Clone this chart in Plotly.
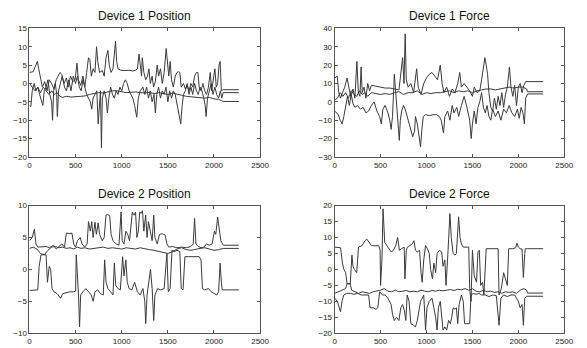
import plotly.graph_objects as go

# ---------------------------------------------------------------
# Recorded traces: (sample index, value) knots for each channel
# ---------------------------------------------------------------

# Device 1 position
d1_pos_a = [(0,3),(40,3.2),(70,5),(85,6),(100,4),(120,1),(140,-1),(165,0.5),(190,-2),(215,1),(240,0),(265,-1.5),
            (290,1),(310,2),(330,3),(350,2.5),(375,0),(400,1.5),(420,-1),(445,2),(470,0.5),(495,1),(515,5.5),(530,1),
            (555,-0.5),(580,2),(600,-1),(620,3),(640,7),(655,6.5),(670,2),(690,4),(710,3),(727,10),(740,6),(760,3),
            (790,3.5),(810,2),(830,7),(850,9),(865,5),(885,3),(905,4),(920,8),(933,11.5),(945,6),(960,4),(990,3.6),
            (1030,3.5),(1080,3.6),(1120,3.4),(1150,3.6),(1170,4),(1188,8),(1200,5),(1215,2),(1223,7),(1240,3),(1260,1),
            (1280,2),(1295,4),(1310,0),(1330,2),(1345,-1),(1365,0.5),(1385,5),(1400,2),(1420,4),(1440,0),(1460,3),
            (1482,9.5),(1495,5),(1510,2),(1525,6),(1540,1),(1560,-1),(1580,2),(1600,3),(1615,3.2),(1630,3),(1645,-1),
            (1670,0),(1690,-1.5),(1710,-0.5),(1730,-2),(1750,0),(1770,-1),(1790,2),(1810,3),(1826,3),(1840,-1),
            (1860,-2),(1880,0),(1900,-2),(1920,-3),(1940,-1),(1960,3),(1975,-2),(1990,1),(2010,4),(2025,-1),(2040,0),
            (2055,5),(2067,6),(2080,-2),(2100,-1.7),(2270,-1.7)]
d1_pos_b = [(0,0),(30,-1),(60,-2),(90,-1),(120,-2.5),(150,-1),(180,-2),(210,-3),(240,-2),(270,-3),(300,-2.5),
            (330,-3.5),(360,-3.8),(400,-3.5),(450,-3.7),(500,-3.6),(550,-3.5),(600,-3.4),(650,-3),(700,-2.8),
            (750,-2.5),(800,-2.6),(850,-2.3),(900,-2),(950,-2),(1000,-2.2),(1050,-2.5),(1100,-2.4),(1150,-2.3),
            (1200,-2.5),(1250,-2.6),(1300,-2.4),(1350,-2.8),(1400,-2.5),(1450,-2.8),(1500,-3),(1550,-2.6),(1600,-3),
            (1650,-3.2),(1700,-3.5),(1750,-3.6),(1800,-3.8),(1850,-3.7),(1900,-4),(1950,-3.8),(2000,-4.2),
            (2050,-4.3),(2100,-4.9),(2270,-4.9)]
d1_pos_c = [(0,-6),(15,-6.3),(30,-2),(50,0),(70,-2),(90,-1),(110,-3),(130,-5),(145,-6),(160,-2),(180,-1),(200,1),
            (220,-3),(240,-5),(250,-10),(262,-2),(280,0),(295,-3),(302,-9),(315,-2),(335,0),(355,2),(380,-1),(400,-2),
            (425,1),(450,-2),(475,2),(500,0),(520,2),(540,-1),(560,-2),(580,1),(600,-1),(620,-3),(640,-4),(660,-5),
            (675,-7),(690,-4),(710,-3),(730,-2),(745,-11),(760,-3),(770,-2),(780,-17.5),(790,-4),(810,-2),(830,-4),
            (845,-8),(860,-4),(880,-1),(900,-3),(920,-4),(940,-2),(960,-3),(980,-1),(1000,-2),(1020,0),(1040,1),
            (1060,0),(1080,-2),(1100,-3),(1120,-4),(1140,-6),(1163,-9.2),(1180,-4),(1200,-2),(1230,-1),(1250,-3),
            (1270,-1),(1290,-4),(1310,-2),(1330,-5),(1350,-3),(1365,-8),(1380,-3),(1400,-1),(1420,-4),(1440,-2),
            (1460,-3),(1480,-1),(1500,-5),(1520,-2),(1540,-4),(1560,-2),(1580,-3),(1600,-6),(1620,-8),(1640,-11),
            (1655,-6),(1670,-3),(1690,-2),(1710,0),(1730,-3),(1750,-1),(1770,-3),(1790,0),(1810,-2),(1830,-3),
            (1850,-1),(1870,-2),(1890,-4),(1905,-6),(1915,-9),(1930,-4),(1950,-2),(1970,0),(1990,-3),(2010,-1),
            (2030,-3),(2050,-4),(2070,-2),(2085,-4),(2100,-2.5),(2270,-2.5)]

# Device 1 force
d1_frc_a = [(0,13),(28,14),(45,5),(65,2),(85,5),(110,8),(135,13),(155,8),(175,3),(200,7),(220,2),(242,22),(258,5),
            (275,3),(288,19),(300,5),(320,8),(340,2),(360,10),(380,6),(400,9),(450,8.5),(500,8),(550,7.5),(600,7.5),
            (650,7),(700,6.5),(740,24),(755,10),(768,37),(780,12),(800,8),(830,10),(860,5),(893,18),(910,8),(940,4),
            (970,10),(1000,13),(1030,15),(1060,16),(1090,14),(1120,12),(1150,20),(1170,10),(1190,5),(1220,8),
            (1250,3),(1280,7),(1310,5),(1340,10),(1362,16),(1380,8),(1410,10),(1440,8),(1470,6),(1500,3),(1520,8),
            (1550,5),(1580,6),(1600,12),(1620,18),(1636,24),(1650,20),(1665,15),(1680,5),(1700,-3),(1720,-5),
            (1740,2),(1760,-4),(1780,3),(1800,-2),(1820,5),(1840,-3),(1860,4),(1880,8),(1903,19),(1920,8),(1940,3),
            (1960,9),(1980,-2),(2000,8),(2020,10),(2040,5),(2060,9),(2080,11),(2100,11),(2270,11)]
d1_frc_b = [(0,1),(30,2),(60,5),(90,3),(120,5),(150,2),(180,6),(210,4),(240,3),(270,6),(300,4),(330,5),(360,3),
            (400,5),(450,4.5),(500,4),(550,4.5),(600,4),(650,5),(700,5.5),(750,4),(800,5),(850,5),(900,6),(950,4),
            (1000,5),(1050,4.5),(1100,5),(1150,5),(1200,5.5),(1250,6),(1300,5),(1350,6),(1400,5.5),(1450,6),
            (1500,5),(1550,6),(1600,6.5),(1650,7),(1700,7),(1750,6.5),(1800,7),(1850,7.5),(1900,8),(1950,7.5),
            (2000,8),(2050,8),(2090,7),(2100,5.5),(2270,5.5)]
d1_frc_c = [(0,-5),(20,-6),(40,-7),(60,-10),(82,-12),(100,-8),(120,-2),(140,3),(160,-2),(180,4),(200,-1),(220,-3),
            (250,-2),(280,-4),(310,-3),(340,-6),(370,-5),(400,-2),(430,0),(460,-5),(490,-8),(508,-12),(525,-4),
            (550,-2),(580,-6),(600,-10),(615,-15),(630,-8),(650,15),(665,3),(680,-8),(695,-15),(704,-21),(715,-10),
            (730,-5),(750,-2),(768,-4),(790,-8),(810,-12),(830,-15),(850,-19),(870,-16),(880,-8),(900,-12),
            (920,-20),(935,-24.5),(950,-15),(965,-8),(990,-7),(1030,-7.5),(1070,-7),(1110,-7),(1140,-8),(1160,-10),
            (1185,-17),(1200,-8),(1230,-5),(1255,-10),(1280,-2),(1300,-6),(1330,-3),(1350,-8),(1380,-2),(1410,3),
            (1440,-3),(1470,-10),(1487,-20),(1500,-12),(1520,-5),(1540,-12),(1560,-3),(1580,0),(1600,5),(1620,-3),
            (1640,-6),(1660,-2),(1680,-8),(1700,-10),(1720,-4),(1750,-8),(1780,-5),(1810,-10),(1840,-4),(1870,-6),
            (1900,-2),(1930,-6),(1960,-8),(1990,-4),(2010,-9),(2030,-3),(2050,-6),(2066,-12),(2080,2),(2100,4.3),
            (2270,4.3)]

# Device 2 position
d2_pos_a = [(0,4.5),(30,5),(53,6.3),(70,4),(90,3.5),(140,3.5),(180,3.6),(220,3.4),(260,3.8),(290,3.2),(320,3.6),
            (350,4),(380,3.5),(400,5.7),(430,5.6),(460,5.7),(480,4),(500,3.5),(520,4.5),(550,5),(570,4),(600,3.5),
            (625,4),(640,7.5),(660,6),(675,7.5),(690,5),(710,7.4),(725,5.5),(745,7.3),(760,5.5),(790,4.5),(810,5),
            (830,8.5),(850,8.6),(870,8.4),(885,5.5),(905,4.5),(940,4),(970,3.8),(993,9),(1005,4.5),(1025,4),
            (1045,6),(1065,5.5),(1085,4.5),(1115,9),(1135,8.5),(1150,9),(1165,5),(1180,6),(1195,9),(1210,8.8),
            (1225,9.2),(1240,6),(1260,8.5),(1275,5),(1290,7.5),(1310,6),(1330,4.5),(1347,8.5),(1360,5),(1385,4),
            (1410,5.5),(1440,5.6),(1470,5.4),(1490,4),(1510,3.5),(1550,3.6),(1600,3.4),(1650,3.5),(1700,3.4),
            (1750,3.6),(1775,4),(1790,8),(1805,4),(1830,3.6),(1860,3.4),(1890,3.5),(1920,4),(1950,3.8),(1980,4),
            (2005,6),(2020,5.5),(2040,8.2),(2060,6),(2075,4.5),(2100,3.8),(2270,3.8)]
d2_pos_b = [(0,3.3),(40,3.5),(80,3.2),(120,2.5),(160,2.3),(200,3),(240,3.5),(280,3.6),(320,3.4),(360,3.5),
            (400,3.3),(440,3.4),(480,3.2),(520,3.5),(560,3.3),(600,3.4),(650,3.2),(700,3.3),(750,3.4),(800,3.5),
            (850,3.3),(900,3.4),(950,3.3),(1000,3.2),(1050,3.4),(1100,3.3),(1150,3.2),(1200,3.4),(1250,3.2),
            (1300,3.1),(1350,3.0),(1400,2.8),(1450,2.6),(1500,2.5),(1550,2.8),(1600,3.2),(1650,3.4),(1700,3.1),
            (1750,3.0),(1800,3.2),(1850,3.3),(1900,3.4),(1950,3.2),(2000,3.0),(2050,3.1),(2100,3.3),(2270,3.3)]
d2_pos_c = [(0,-3.3),(60,-3.3),(90,-3.2),(105,0.5),(125,2.3),(180,2.3),(195,-2),(215,0.5),(230,0),(245,-3),
            (265,-3.5),(300,-3.8),(337,-4.5),(360,-3.8),(400,-3.6),(440,-3.5),(480,-3.5),(500,-3.4),(507,2.3),
            (520,-1),(532,-4),(543,-9),(555,-4),(580,-3.5),(610,-3),(640,-3.5),(670,-4),(690,-5),(710,-3.5),
            (740,-3.2),(770,-3.8),(800,-4),(815,1.5),(830,-2),(850,-3),(880,-3.5),(905,-4),(920,1),(935,-2.5),
            (960,-3),(985,-3.2),(1010,2),(1025,-1),(1045,1.5),(1060,-2),(1080,-3),(1110,-3.2),(1140,-2),
            (1170,-3.5),(1200,-4),(1230,-3),(1250,-5),(1260,-8.5),(1275,-4),(1295,-2),(1312,0),(1330,-3),
            (1347,-8),(1360,-4),(1390,-3),(1420,-3.2),(1460,-3),(1490,2.5),(1505,-3.5),(1525,-3),(1545,3),
            (1570,2.8),(1600,3),(1630,2.8),(1645,-3),(1665,-3.2),(1685,2),(1720,2),(1760,2),(1800,2.1),(1840,2),
            (1860,1.5),(1875,-3),(1900,-3.2),(1940,-3),(1970,-3.5),(2005,-3.8),(2030,-4),(2050,-3.5),(2067,1),
            (2080,-2),(2090,-3.2),(2270,-3.2)]

# Device 2 force
d2_frc_a = [(0,7),(40,7),(64,6.8),(85,2),(100,0),(120,-1),(135,-4.5),(170,-4.5),(188,4.5),(200,1),(215,0),
            (240,-1),(260,7),(300,7.5),(330,9),(350,9.5),(375,8.5),(400,7.5),(440,7.4),(480,7.5),(495,6),
            (500,-5),(515,3),(527,19),(545,8.5),(570,7.5),(590,6.5),(615,5.5),(640,6),(665,7.5),(686,10),
            (705,6),(730,6.5),(757,7),(765,-3),(780,6),(793,7),(820,7.5),(845,8),(864,9),(880,6),(900,5.5),
            (925,6),(940,-1),(953,-4),(970,3),(990,7.5),(1010,6.5),(1030,5),(1045,0),(1065,-3),(1080,2),
            (1100,-1),(1115,5),(1140,6),(1165,5.5),(1180,1),(1200,3),(1213,-5),(1235,6),(1255,17.5),(1270,10),
            (1290,5),(1310,4.5),(1325,5),(1350,16.5),(1365,10),(1380,8),(1400,7),(1430,7),(1460,7),(1470,-6),
            (1485,-10),(1500,6),(1520,-2),(1545,-4),(1560,5.5),(1575,6),(1590,-5),(1610,-4),(1625,-8),(1650,6.5),
            (1700,6.5),(1750,6.6),(1780,6.5),(1790,-8),(1815,-6),(1840,-1),(1860,-3),(1880,-5),(1895,6.5),
            (1940,6.5),(1970,6.8),(1985,8.2),(2000,7),(2020,6.5),(2040,6.4),(2055,-2.5),(2070,5),(2075,6.5),
            (2100,6.5),(2270,6.5)]
d2_frc_b = [(0,-7.5),(40,-7),(80,-6.5),(120,-6),(135,-4.5),(170,-4.5),(185,-6.5),(220,-7),(260,-7.5),(300,-7),
            (340,-7.2),(380,-7.5),(420,-7),(460,-6.8),(500,-6.5),(540,-6),(580,-6.8),(620,-7),(660,-6.5),
            (700,-7),(740,-6.8),(780,-6.6),(820,-7),(860,-6.8),(900,-7),(940,-6.5),(980,-6.8),(1020,-7),
            (1060,-6.6),(1100,-6.8),(1140,-6.5),(1180,-6.7),(1220,-6.5),(1260,-6.3),(1300,-6.6),(1340,-6.2),
            (1380,-6.4),(1420,-6),(1460,-6.5),(1500,-6),(1540,-6.8),(1580,-7),(1620,-6.5),(1660,-7),(1700,-6.8),
            (1740,-7.2),(1780,-7),(1820,-7.5),(1860,-7),(1900,-7.2),(1940,-7),(1980,-7.5),(2020,-6.5),
            (2060,-6),(2090,-6.5),(2100,-7.4),(2270,-7.4)]
d2_frc_c = [(0,-9),(30,-10),(50,-12),(64,-13.3),(80,-10),(100,-8),(130,-7.5),(170,-7.5),(210,-7.8),(250,-7.5),
            (290,-8),(330,-8),(370,-8),(385,-12),(420,-12),(450,-12.5),(470,-12),(490,-7),(520,-8),(550,-8),
            (580,-9),(615,-11),(630,-14),(650,-16),(675,-15),(700,-16),(720,-12),(740,-11),(760,-13),(775,-16),
            (790,-8),(810,-10),(830,-17),(860,-17.5),(880,-18),(900,-16),(935,-10),(955,-9),(970,-8),(990,-19),
            (1005,-12),(1030,-10),(1060,-9),(1080,-12),(1100,-15),(1115,-19),(1130,-12),(1150,-10),(1180,-19),
            (1200,-18),(1220,-19),(1240,-16),(1260,-17),(1275,-15),(1290,-12),(1310,-12.5),(1325,-12),(1340,-17),
            (1355,-11),(1380,-8),(1400,-10),(1415,-17),(1440,-17),(1470,-17),(1485,-8),(1510,-7.5),(1540,-7.8),
            (1570,-7.5),(1600,-8),(1640,-8),(1680,-8.5),(1720,-8),(1760,-8.2),(1790,-17.5),(1810,-9),(1840,-8),
            (1880,-8.5),(1920,-8),(1960,-8),(1980,-9),(2000,-10),(2020,-12),(2040,-11),(2055,-17.5),(2070,-9),
            (2090,-8.4),(2270,-8.4)]

titles = ["Device 1 Position", "Device 1 Force", "Device 2 Position", "Device 2 Force"]
panel_series = [
    [d1_pos_a, d1_pos_b, d1_pos_c],
    [d1_frc_a, d1_frc_b, d1_frc_c],
    [d2_pos_a, d2_pos_b, d2_pos_c],
    [d2_frc_a, d2_frc_b, d2_frc_c],
]
y_ranges = [(-20, 15), (-30, 40), (-10, 10), (-20, 20)]
y_steps = [5, 10, 5, 5]
x_range = (0, 2500)
x_step = 500

# ---------------------------------------------------------------
# Layout of the 2x2 grid (fractions of the paper)
# ---------------------------------------------------------------
W, H = 587, 348
col_dom = [(28 / W, 263 / W), (339 / W, 573 / W)]
row_dom = [(1 - 157 / H, 1 - 25 / H), (1 - 338 / H, 1 - 207 / H)]

line_col = "#3a3a3a"
frame_col = "#555555"
tick_font = dict(family="Liberation Sans, Arial, sans-serif", size=8, color="#222222")

fig = go.Figure()
layout = dict(
    width=W, height=H,
    margin=dict(l=0, r=0, t=0, b=0),
    paper_bgcolor="white", plot_bgcolor="white",
    showlegend=False,
    annotations=[],
)

for i in range(4):
    r, c = divmod(i, 2)
    suffix = "" if i == 0 else str(i + 1)
    xa, ya = "x" + suffix, "y" + suffix
    for s in panel_series[i]:
        fig.add_trace(go.Scatter(
            x=[p[0] for p in s], y=[p[1] for p in s],
            mode="lines", line=dict(color=line_col, width=1),
            xaxis=xa, yaxis=ya, hoverinfo="skip",
        ))
    axis_common = dict(
        showgrid=False, zeroline=False,
        showline=True, linecolor=frame_col, linewidth=1, mirror="ticks",
        ticks="inside", ticklen=3, tickcolor=frame_col, tickwidth=1,
        tickfont=tick_font,
    )
    layout["xaxis" + suffix] = dict(
        axis_common, domain=col_dom[c], range=list(x_range),
        tick0=0, dtick=x_step, anchor=ya, ticklabelstandoff=0,
    )
    layout["yaxis" + suffix] = dict(
        axis_common, domain=row_dom[r], range=list(y_ranges[i]),
        tick0=0, dtick=y_steps[i], anchor=xa,
    )
    layout["annotations"].append(dict(
        text=titles[i], xref="paper", yref="paper",
        x=sum(col_dom[c]) / 2, y=row_dom[r][1],
        xanchor="center", yanchor="bottom", yshift=3, showarrow=False,
        font=dict(family="Liberation Sans, Arial, sans-serif", size=12, color="#111111"),
    ))

fig.update_layout(**layout)
fig.write_html("out.html")
